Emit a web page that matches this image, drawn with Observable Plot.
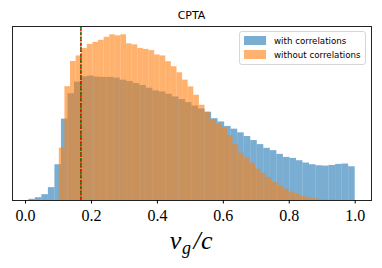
<!DOCTYPE html>
<html><head><meta charset="utf-8">
<script src="https://cdn.jsdelivr.net/npm/d3@7"></script>
<script src="https://cdn.jsdelivr.net/npm/@observablehq/plot@0.6"></script>
<style>
body{margin:0;background:#fff;}
#wrap{position:relative;width:382px;height:268px;overflow:hidden;background:#fff;}
#wrap svg{position:absolute;left:0;top:0;}
#wrap svg text{font-family:"Liberation Serif", serif !important;font-size:16px !important;}
.title{position:absolute;left:12px;width:359px;top:10px;text-align:center;font:11px "DejaVu Sans";line-height:12px;color:#000;}
.legend{position:absolute;left:239px;top:31px;width:125px;height:32px;border:1px solid #d6d6d6;border-radius:3px;background:rgba(255,255,255,0.8);font:8.7px "DejaVu Sans";color:#000;}
.sw{position:absolute;left:4px;width:22px;height:9px;}
.lt{position:absolute;left:34px;line-height:10px;white-space:nowrap;}
.xlabel{position:absolute;left:12px;width:359px;top:226px;text-align:center;font:italic 26px "Liberation Serif", serif;color:#000;letter-spacing:0.5px;}
.xlabel sub{font-size:18px;vertical-align:-5px;margin-right:2px;}
</style></head>
<body><div id="wrap"></div>
<script>
const title = "CPTA";
const seriesNames = ["with correlations", "without correlations"];
const colors = ["#1f77b4", "#ff7f0e"];
const thresholdX = 0.168;
const xTicks = [0.0, 0.2, 0.4, 0.6, 0.8, 1.0];
// "with correlations": 50 bins from 0.01 to 1.0 (arbitrary units)
const withRange = [0.01, 1.0];
const withCounts = [
  1.2, 2.8, 5.8, 12.8, 35.5, 80.8, 106, 117.5, 122.8, 123.5,
  122.5, 122.2, 122.2, 121.5, 119.5, 118.2, 116.2, 114.2, 111.5, 108.8,
  107.8, 105.5, 102.8, 100.2, 97.2, 93.8, 90.8, 87.5, 81.2, 78,
  73.5, 70.8, 67.2, 63.5, 59.5, 55.5, 51.8, 49.5, 45.8, 42.8,
  41.8, 39.5, 37.2, 35.5, 34.5, 34.2, 34.8, 35.8, 36.2, 33.5
];
// "without correlations": 50 bins from 0.1025 to 0.9525
const withoutRange = [0.1025, 0.9525];
const withoutCounts = [
  52, 113, 138, 143.5, 151, 155, 157, 159, 162, 164.5,
  163.5, 164.5, 155.5, 154.5, 151, 150, 148.8, 144.5, 143.5, 137.8,
  132.8, 126.8, 119.5, 112.8, 104.5, 94.5, 87.8, 80, 76, 72,
  64.5, 55.5, 47, 42, 37, 31, 26.8, 22.8, 17.8, 14.5,
  11.2, 8, 6, 4, 2.8, 1.8, 1.1, 0.6, 0.3, 0.1
];

function bins(range, counts) {
  const w = (range[1] - range[0]) / counts.length;
  return counts.map((c, i) => ({x1: range[0] + i * w, x2: range[0] + (i + 1) * w, y: c}));
}
const withBins = bins(withRange, withCounts);
const withoutBins = bins(withoutRange, withoutCounts);
const yMax = d3.max([...withCounts, ...withoutCounts]) * 1.05;
const xPad = (withRange[1] - withRange[0]) * 0.05;

const chart = Plot.plot({
  width: 382, height: 268,
  marginLeft: 12, marginRight: 11, marginTop: 26, marginBottom: 68,
  style: {fontFamily: "Liberation Serif", fontSize: "16px"},
  x: {domain: [withRange[0] - xPad, withRange[1] + xPad]},
  y: {domain: [0, yMax], axis: null},
  marks: [
    Plot.rectY(withBins, {x1: "x1", x2: "x2", y: "y", fill: colors[0], fillOpacity: 0.6}),
    Plot.rectY(withoutBins, {x1: "x1", x2: "x2", y: "y", fill: colors[1], fillOpacity: 0.6}),
    Plot.ruleX([thresholdX], {stroke: "green", strokeWidth: 1.5, strokeDasharray: "4,1.5"}),
    Plot.ruleX([thresholdX], {stroke: "red", strokeWidth: 1.5, strokeDasharray: "1.5,2"}),
    Plot.frame({stroke: "#222", strokeWidth: 1}),
    Plot.axisX({ticks: xTicks, tickFormat: d => d.toFixed(1), tickSize: 3.5, tickPadding: 6, label: null, stroke: "#000", fontSize: 16, fontFamily: "Liberation Serif"})
  ]
});
const wrap = document.getElementById("wrap");
wrap.appendChild(chart);

const t = document.createElement("div");
t.className = "title"; t.textContent = title; wrap.appendChild(t);

const lg = document.createElement("div");
lg.className = "legend";
seriesNames.forEach((n, i) => {
  const sw = document.createElement("div");
  sw.className = "sw"; sw.style.top = (4 + i * 14.3) + "px";
  sw.style.background = colors[i]; sw.style.opacity = 0.6;
  lg.appendChild(sw);
  const lt = document.createElement("div");
  lt.className = "lt"; lt.style.top = (4 + i * 14.3) + "px"; lt.textContent = n;
  lg.appendChild(lt);
});
wrap.appendChild(lg);

const xl = document.createElement("div");
xl.className = "xlabel";
xl.innerHTML = "v<sub>g</sub>/c";
wrap.appendChild(xl);
</script></body></html>
